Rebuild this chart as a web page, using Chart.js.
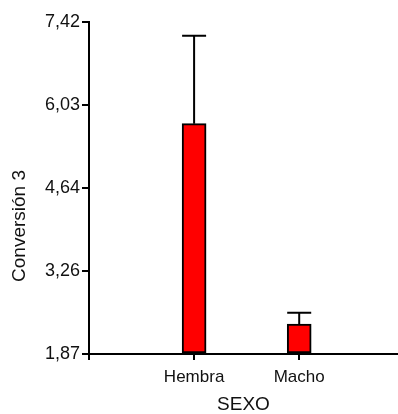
<!DOCTYPE html>
<html>
<head>
<meta charset="utf-8">
<script src="https://cdn.jsdelivr.net/npm/chart.js@4"></script>
<style>
  html, body { margin: 0; padding: 0; background: #fff; overflow: hidden; }
</style>
</head>
<body>
<canvas id="grafico" width="398" height="414"></canvas>
<script>
// data
var kategori = ['Hembra', 'Macho'];
var rataRata = [5.72, 2.37];
var galat = [1.47, 0.19];
var tickY = [1.87, 3.26, 4.64, 6.03, 7.42];
var judulX = 'SEXO';
var judulY = 'Conversión 3';

var huruf = "'Liberation Sans', Arial, sans-serif";

// plugin untuk error bar (garis ke atas saja)
var errorBar = {
    id: 'errorBar',
    afterDatasetsDraw: function (chart) {
        var ctx = chart.ctx;
        var meta = chart.getDatasetMeta(0);
        var skalaY = chart.scales.y;
        ctx.save();
        ctx.strokeStyle = '#000';
        ctx.lineWidth = 2;
        meta.data.forEach(function (bar, i) {
            var atas = skalaY.getPixelForValue(rataRata[i] + galat[i]);
            var lebar = bar.width;
            ctx.beginPath();
            ctx.moveTo(bar.x, bar.y);
            ctx.lineTo(bar.x, atas);
            ctx.moveTo(bar.x - lebar / 2, atas);
            ctx.lineTo(bar.x + lebar / 2, atas);
            ctx.stroke();
        });
        ctx.restore();
    }
};

// plugin untuk judul sumbu Y (posisinya agak ke bawah)
var judulSumbuY = {
    id: 'judulSumbuY',
    afterDraw: function (chart) {
        var ctx = chart.ctx;
        ctx.save();
        ctx.translate(20, 226);
        ctx.rotate(-Math.PI / 2);
        ctx.font = '19px ' + huruf;
        ctx.fillStyle = '#111';
        ctx.textAlign = 'center';
        ctx.textBaseline = 'middle';
        ctx.fillText(judulY, 0, 0);
        ctx.restore();
    }
};

var dataBar = kategori.map(function (k, i) {
    return { x: i + 1, y: rataRata[i] };
});

var ctx = document.getElementById('grafico').getContext('2d');
var grafik = new Chart(ctx, {
    type: 'bar',
    data: {
        datasets: [{
            data: dataBar,
            backgroundColor: '#ff0000',
            borderColor: '#000',
            borderWidth: 2,
            borderSkipped: false,
            barThickness: 24,
            base: tickY[0]
        }]
    },
    options: {
        responsive: false,
        animation: false,
        layout: { padding: { top: 22, right: 0, bottom: 0, left: 0 } },
        plugins: {
            legend: { display: false },
            tooltip: { enabled: false }
        },
        scales: {
            x: {
                type: 'linear',
                min: 0,
                max: 2.94,
                offset: false,
                afterFit: function (s) { s.height = 60; },
                afterBuildTicks: function (s) {
                    s.ticks = [{ value: 0 }, { value: 1 }, { value: 2 }];
                },
                ticks: {
                    autoSkip: false,
                    maxRotation: 0,
                    padding: 7,
                    color: '#111',
                    font: { family: huruf, size: 17 },
                    callback: function (v) {
                        return v === 0 ? '' : kategori[v - 1];
                    }
                },
                grid: {
                    offset: false,
                    drawOnChartArea: false,
                    drawTicks: true,
                    tickLength: 6,
                    color: '#000',
                    lineWidth: 2
                },
                border: { color: '#000', width: 2 },
                title: {
                    display: true,
                    text: judulX,
                    color: '#111',
                    font: { family: huruf, size: 19, lineHeight: 1 },
                    padding: { top: 0, bottom: 0 }
                }
            },
            y: {
                min: tickY[0],
                max: tickY[tickY.length - 1],
                afterFit: function (s) { s.width = 89; },
                afterBuildTicks: function (s) {
                    s.ticks = tickY.map(function (v) { return { value: v }; });
                },
                ticks: {
                    padding: 2,
                    color: '#111',
                    font: { family: huruf, size: 18 },
                    callback: function (v) {
                        return v.toFixed(2).replace('.', ',');
                    }
                },
                grid: {
                    drawOnChartArea: false,
                    drawTicks: true,
                    tickLength: 7,
                    color: '#000',
                    lineWidth: 2
                },
                border: { color: '#000', width: 2 }
            }
        }
    },
    plugins: [errorBar, judulSumbuY]
});
</script>
</body>
</html>
